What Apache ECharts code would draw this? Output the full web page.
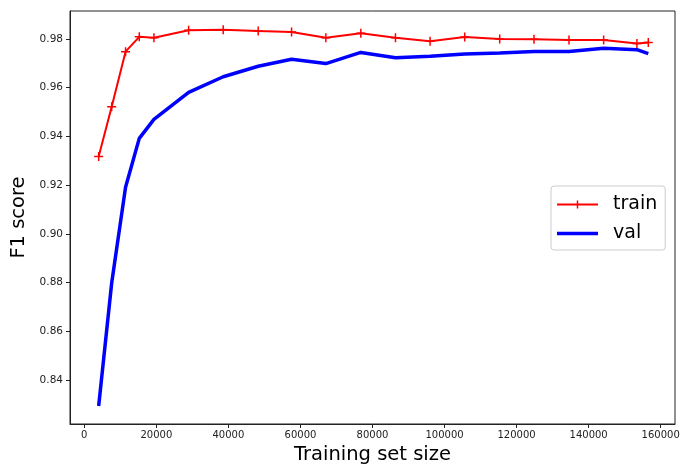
<!DOCTYPE html>
<html>
<head>
<meta charset="utf-8">
<script src="https://cdn.jsdelivr.net/npm/echarts@6/dist/echarts.min.js"></script>
<style>
html,body{margin:0;padding:0;background:#fff;}
#chart{width:694px;height:466px;}
</style>
</head>
<body>
<div id="chart"></div>
<script>
// ---- data ----
const sizes = [3990, 7600, 11450, 15260, 19330, 28960, 38560, 48270, 57530, 67050, 76760, 86380, 95980, 105600, 115310, 124830, 134540, 144160, 153400, 156560];
const trainScores = [0.9317, 0.9522, 0.9748, 0.9809, 0.9805, 0.9836, 0.9838, 0.9833, 0.9829, 0.9805, 0.9824, 0.9805, 0.9791, 0.9808, 0.9800, 0.9799, 0.9796, 0.9796, 0.9782, 0.9786];
const valScores = [0.8293, 0.8798, 0.9191, 0.9392, 0.9470, 0.9581, 0.9645, 0.9688, 0.9717, 0.9699, 0.9745, 0.9723, 0.9729, 0.9738, 0.9743, 0.9749, 0.9749, 0.9762, 0.9756, 0.9740];
const xTicks = [0, 20000, 40000, 60000, 80000, 100000, 120000, 140000, 160000];
const yTicks = [0.84, 0.86, 0.88, 0.90, 0.92, 0.94, 0.96, 0.98];
const seriesNames = ['train', 'val'];
const xTitle = 'Training set size';
const yTitle = 'F1 score';

const FONT = 'DejaVu Sans';
const plus = 'path://M5,0 L7,0 L7,5 L12,5 L12,7 L7,7 L7,12 L5,12 L5,7 L0,7 L0,5 L5,5 Z';
// legend glyphs: a line with a small cross, and a thick line
const trainIcon = 'path://M0,6 L41,6 L41,8 L0,8 Z M19.75,3 L21.25,3 L21.25,11 L19.75,11 Z';
const valIcon = 'path://M0,0 L41,0 L41,3.5 L0,3.5 Z';

const chart = echarts.init(document.getElementById('chart'), null, {renderer: 'canvas'});
chart.setOption({
  animation: false,
  backgroundColor: '#fff',
  grid: {left: 70, right: 19, top: 11, bottom: 42, containLabel: false, outerBoundsMode: 'none',
    show: true, borderColor: '#222', borderWidth: 1, backgroundColor: 'transparent'},
  legend: {
    orient: 'vertical',
    left: 551, top: 186,
    padding: [9, 8, 7, 6],
    itemGap: 10,
    itemWidth: 41,
    itemHeight: 14,
    backgroundColor: 'rgba(255,255,255,0.8)',
    borderColor: '#cccccc',
    borderWidth: 1,
    borderRadius: 3,
    textStyle: {fontFamily: FONT, fontSize: 19, color: '#000', padding: [0, 0, 0, 10]},
    data: [
      {name: seriesNames[0], icon: trainIcon},
      {name: seriesNames[1], icon: valIcon}
    ]
  },
  xAxis: {
    type: 'value',
    min: -3970, max: 163970,
    name: xTitle, nameLocation: 'middle', nameGap: 21,
    nameTextStyle: {fontFamily: FONT, fontSize: 19.5, color: '#000'},
    axisLine: {show: true, onZero: false, lineStyle: {color: '#222', width: 1}},
    axisTick: {show: true, length: 4, lineStyle: {color: '#222'}, customValues: xTicks},
    axisLabel: {fontFamily: FONT, fontSize: 10, color: '#222', margin: 6, customValues: xTicks,
      formatter: v => String(Math.round(v))},
    splitLine: {show: false}
  },
  yAxis: {
    type: 'value',
    min: 0.8219, max: 0.9915,
    name: yTitle, nameLocation: 'middle', nameGap: 34,
    nameTextStyle: {fontFamily: FONT, fontSize: 19.5, color: '#000'},
    axisLine: {show: true, onZero: false, lineStyle: {color: '#222', width: 1}},
    axisTick: {show: true, length: 4, lineStyle: {color: '#222'}, customValues: yTicks},
    axisLabel: {fontFamily: FONT, fontSize: 10.5, color: '#222', margin: 7, customValues: yTicks,
      formatter: v => v.toFixed(2)},
    splitLine: {show: false}
  },
  series: [
    {
      name: seriesNames[0], type: 'line',
      data: sizes.map((s, i) => [s, trainScores[i]]),
      symbol: plus, symbolSize: 9,
      lineStyle: {color: '#ff0000', width: 2},
      itemStyle: {color: '#ff0000', borderWidth: 0},
      z: 3
    },
    {
      name: seriesNames[1], type: 'line',
      data: sizes.map((s, i) => [s, valScores[i]]),
      symbol: 'none',
      lineStyle: {color: '#0000ff', width: 3.5},
      itemStyle: {color: '#0000ff'},
      z: 2
    }
  ]
});
</script>
</body>
</html>
